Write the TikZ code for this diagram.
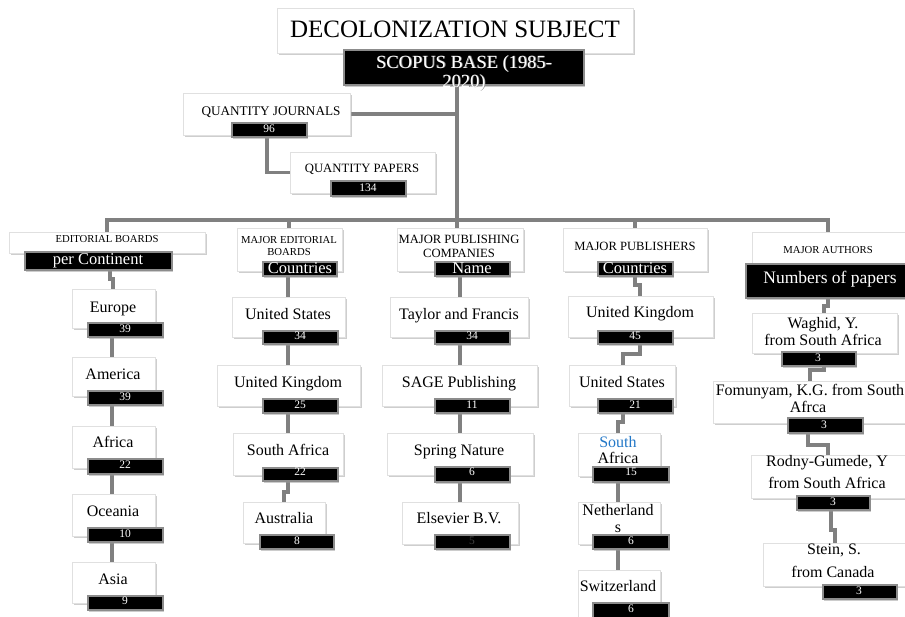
\documentclass[tikz,border=0pt]{standalone}
\usepackage{fontspec}
\setmainfont{Liberation Serif}
\usetikzlibrary{shadows}
\pgfdeclarelayer{bg}
\pgfsetlayers{bg,main}
\definecolor{linkblue}{RGB}{35,120,200}
\tikzset{
  wb/.style={draw=black!12, fill=white, inner sep=0pt, outer sep=0pt, anchor=north west,
    drop shadow={shadow xshift=1.5pt, shadow yshift=-2pt, fill=black!35, opacity=0.55}},
  bb/.style={draw=black!45, line width=1.2pt, fill=black, inner sep=0pt, outer sep=0pt, anchor=north west,
    drop shadow={shadow xshift=1pt, shadow yshift=-1.5pt, fill=black!40, opacity=0.5}},
  conn/.style={draw=black!50, line width=3.5pt, line join=miter},
  lab/.style={anchor=base, inner sep=0pt, font=\fontsize{16}{19}\selectfont},
  wlab/.style={anchor=base, inner sep=0pt, text=white, font=\fontsize{16.5}{19}\selectfont},
  num/.style={anchor=base, inner sep=0pt, text=white, font=\fontsize{11.5}{13}\selectfont},
  hds/.style={anchor=base, inner sep=0pt, font=\fontsize{10.7}{12}\selectfont},
  hdl/.style={anchor=base, inner sep=0pt, font=\fontsize{12.6}{14}\selectfont},
}
\newcommand{\wbx}[5]{\node[wb, minimum width={(#4-#2)*1pt}, minimum height={(#5-#3)*1pt}] (#1) at (#2,#3) {};}
\newcommand{\bbx}[5]{\node[bb, minimum width={(#4-#2)*1pt}, minimum height={(#5-#3)*1pt}] (#1) at (#2,#3) {};}
\newcommand{\tx}[5]{\node[#1] (#2) at (#3,#4) {#5};}
\begin{document}
\begin{tikzpicture}[x=1pt,y=-1pt]
\useasboundingbox (0,0) rectangle (905,616);
\clip (0,0) rectangle (905,616);
% ---------- top ----------
\wbx{title}{277}{8}{633}{53}
\bbx{scopus}{344}{50}{584}{85}
\tx{anchor=base, inner sep=0pt, font=\fontsize{25}{28}\selectfont}{ttitle}{455}{37}{DECOLONIZATION SUBJECT}
\node[anchor=base, inner sep=0pt, text=black!45, font=\fontsize{18.5}{20}\selectfont] (tsc1s) at (464.8,68.8) {SCOPUS BASE (1985-};
\node[anchor=base, inner sep=0pt, text=black!45, font=\fontsize{18.5}{20}\selectfont] (tsc2s) at (464.8,87.8) {2020)};
\node[anchor=base, inner sep=0pt, text=white, font=\fontsize{18.5}{20}\selectfont] (tsc1) at (464,68) {SCOPUS BASE (1985-};
\node[anchor=base, inner sep=0pt, text=white, font=\fontsize{18.5}{20}\selectfont] (tsc2) at (464,87) {2020)};
\wbx{qj}{183}{93}{350}{135}
\bbx{qjn}{232}{123}{307}{137}
\tx{anchor=base, inner sep=0pt, font=\fontsize{13.2}{15}\selectfont}{tqj}{271}{115}{QUANTITY JOURNALS}
\tx{num}{tqjn}{269}{132}{96}
\wbx{qp}{290}{152}{435}{193}
\bbx{qpn}{331}{181}{406}{196}
\tx{anchor=base, inner sep=0pt, font=\fontsize{12.7}{15}\selectfont}{tqp}{362}{172}{QUANTITY PAPERS}
\tx{num}{tqpn}{368}{191.5}{134}
% ---------- headings ----------
\wbx{eb}{9}{232}{205}{253}
\bbx{pcb}{25}{252}{172}{270}
\tx{hds}{teb}{107}{242}{EDITORIAL BOARDS}
\tx{wlab}{tpcb}{98}{264}{per Continent}
\wbx{meb}{237}{228}{342}{271}
\bbx{mebc}{263}{262}{337}{276}
\tx{hds}{tmeb1}{289}{243}{MAJOR EDITORIAL}
\tx{hds}{tmeb2}{289}{255}{BOARDS}
\tx{wlab}{tmebc}{300}{273}{Countries}
\wbx{mpc}{397}{228}{523}{271}
\bbx{mpcn}{435}{262}{510}{276}
\tx{hdl}{tmpc1}{459}{243}{MAJOR PUBLISHING}
\tx{hdl}{tmpc2}{459}{257}{COMPANIES}
\tx{wlab}{tmpcn}{472}{273}{Name}
\wbx{mp}{563}{228}{707}{271}
\bbx{mpcc}{598}{262}{673}{276}
\tx{hdl}{tmp}{635}{250}{MAJOR PUBLISHERS}
\tx{wlab}{tmpcc}{635}{273}{Countries}
\wbx{ma}{752}{232}{912}{265}
\bbx{mab}{746}{264}{912}{298}
\tx{hds}{tma}{828}{253}{MAJOR AUTHORS}
\tx{anchor=base, inner sep=0pt, text=white, font=\fontsize{17.5}{19}\selectfont}{tmab}{830}{283}{Numbers of papers}
% ---------- continents ----------
\wbx{eu}{72}{289}{155}{328} \bbx{eub}{88}{323}{163}{337}
\tx{lab}{teu}{113}{312}{Europe} \tx{num}{teub}{125}{332}{39}
\wbx{am}{72}{357}{155}{396} \bbx{amb}{88}{391}{163}{405}
\tx{lab}{tam}{113}{379}{America} \tx{num}{tamb}{125}{400}{39}
\wbx{af}{72}{426}{155}{468} \bbx{afb}{88}{459}{163}{474}
\tx{lab}{taf}{113}{447}{Africa} \tx{num}{tafb}{125}{468}{22}
\wbx{oc}{72}{494}{155}{536} \bbx{ocb}{88}{528}{163}{542}
\tx{lab}{toc}{113}{516}{Oceania} \tx{num}{tocb}{125}{537}{10}
\wbx{as}{72}{562}{155}{603} \bbx{asb}{88}{596}{163}{610}
\tx{lab}{tas}{113}{584}{Asia} \tx{num}{tasb}{125}{604}{9}
% ---------- editorial countries ----------
\wbx{us}{232}{297}{345}{337} \bbx{usb}{263}{331}{338}{344}
\tx{lab}{tus}{288}{319}{United States} \tx{num}{tusb}{300}{339}{34}
\wbx{uk}{217}{365}{360}{406} \bbx{ukb}{263}{399}{338}{413}
\tx{lab}{tuk}{288}{387}{United Kingdom} \tx{num}{tukb}{300}{408}{25}
\wbx{sa}{233}{433}{343}{475} \bbx{sab}{263}{468}{338}{481}
\tx{lab}{tsa}{288}{455}{South Africa} \tx{num}{tsab}{300}{475}{22}
\wbx{au}{243}{502}{325}{543} \bbx{aub}{260}{535}{334}{549}
\tx{lab}{tau}{284}{523}{Australia} \tx{num}{taub}{297}{544}{8}
% ---------- publishing companies ----------
\wbx{tf}{390}{297}{528}{337} \bbx{tfb}{435}{331}{510}{344}
\tx{lab}{ttf}{459}{319}{Taylor and Francis} \tx{num}{ttfb}{472}{339}{34}
\wbx{sg}{382}{365}{537}{406} \bbx{sgb}{435}{399}{510}{413}
\tx{lab}{tsg}{459}{387}{SAGE Publishing} \tx{num}{tsgb}{472}{408}{11}
\wbx{sn}{387}{433}{533}{475} \bbx{snb}{435}{467}{510}{482}
\tx{lab}{tsn}{459}{455}{Spring Nature} \tx{num}{tsnb}{472}{475}{6}
\wbx{el}{402}{502}{518}{544} \bbx{elb}{435}{535}{510}{549}
\tx{lab}{tel}{459}{523}{Elsevier B.V.} \tx{num, text=black!75}{telb}{472}{544}{5}
% ---------- publishers ----------
\wbx{puk}{568}{296}{713}{337} \bbx{pukb}{598}{331}{673}{344}
\tx{lab}{tpuk}{640}{317}{United Kingdom} \tx{num}{tpukb}{635}{339}{45}
\wbx{pus}{569}{365}{675}{406} \bbx{pusb}{598}{399}{673}{413}
\tx{lab}{tpus}{622}{387}{United States} \tx{num}{tpusb}{635}{408}{21}
\wbx{psa}{578}{433}{660}{476} \bbx{psab}{593}{467}{669}{482}
\tx{lab, text=linkblue}{tpsa1}{618}{447}{South} \tx{lab}{tpsa2}{618}{463}{Africa} \tx{num}{tpsab}{631}{475}{15}
\wbx{pnl}{578}{502}{660}{544} \bbx{pnlb}{593}{535}{669}{549}
\tx{lab}{tpnl1}{618}{515}{Netherland} \tx{lab}{tpnl2}{618}{532}{s} \tx{num}{tpnlb}{631}{544}{6}
\wbx{psw}{578}{570}{660}{630} \bbx{pswb}{593}{603}{669}{625}
\tx{lab}{tpsw}{618}{591}{Switzerland} \tx{num}{tpswb}{631}{612}{6}
% ---------- authors ----------
\wbx{wa}{752}{313}{897}{353} \bbx{wab}{782}{352}{856}{366}
\tx{lab}{twa1}{823}{328}{Waghid, Y.} \tx{lab}{twa2}{823}{345}{from South Africa} \tx{num}{twab}{818}{361}{3}
\wbx{fo}{713}{381}{912}{423} \bbx{fob}{788}{418}{863}{433}
\tx{lab}{tfo1}{810}{395}{Fomunyam, K.G. from South} \tx{lab}{tfo2}{808}{412}{Afrca} \tx{num}{tfob}{824}{428}{3}
\wbx{ro}{751}{455}{912}{498} \bbx{rob}{797}{496}{870}{510}
\tx{lab}{tro1}{827}{466}{Rodny-Gumede, Y} \tx{lab}{tro2}{827}{488}{from South Africa} \tx{num}{trob}{833}{505}{3}
\wbx{st}{763}{543}{912}{586} \bbx{stb}{823}{585}{897}{599}
\tx{lab}{tst1}{834}{554}{Stein, S.} \tx{lab}{tst2}{833}{577}{from Canada} \tx{num}{tstb}{859}{594}{3}
% ---------- connectors ----------
\coordinate (trunk) at (457,220);
\coordinate (b1) at (107,220); \coordinate (b2) at (289,220);
\coordinate (b4) at (635,220); \coordinate (b5) at (828,220);
\coordinate (q1) at (267,0);
\coordinate (xc) at (112,0); \coordinate (xe) at (288,0);
\coordinate (xp) at (460,0); \coordinate (xq) at (618,0);
\coordinate (j1a) at (110,279); \coordinate (j1b) at (113,279);
\coordinate (j2a) at (288,492); \coordinate (j2b) at (284,492);
\coordinate (j3a) at (635,285); \coordinate (j3b) at (640,285);
\coordinate (j4a) at (640,354); \coordinate (j4b) at (623,354);
\coordinate (j5a) at (623,422); \coordinate (j5b) at (618,422);
\coordinate (j6a) at (828,306); \coordinate (j6b) at (824,306);
\coordinate (j7a) at (824,370); \coordinate (j7b) at (810,370);
\coordinate (j8a) at (808,445); \coordinate (j8b) at (828,445);
\coordinate (j9a) at (831,530); \coordinate (j9b) at (835,530);
\begin{pgfonlayer}{bg}
\draw[conn] (scopus.south -| trunk) -- (mpc.north -| trunk);
\draw[conn] (qj.east) -- (qj.east -| trunk);
\draw[conn] (qjn.south -| q1) |- (qp.west);
\draw[conn] (eb.north) -- (b1) -- (b5) -- (ma.north -| b5);
\draw[conn] (b2) -- (meb.north -| b2);
\draw[conn] (b4) -- (mp.north -| b4);
\draw[conn] (pcb.south -| j1a) -- (j1a) -- (j1b) -- (eu.north -| j1b);
\foreach \a/\b in {eu/am,am/af,af/oc,oc/as} \draw[conn] (\a.south -| xc) -- (\b.north -| xc);
\foreach \a/\b in {mebc/us,us/uk,uk/sa} \draw[conn] (\a.south -| xe) -- (\b.north -| xe);
\draw[conn] (sab.south -| j2a) -- (j2a) -- (j2b) -- (au.north -| j2b);
\foreach \a/\b in {mpcn/tf,tf/sg,sg/sn,sn/el} \draw[conn] (\a.south -| xp) -- (\b.north -| xp);
\draw[conn] (mpcc.south -| j3a) -- (j3a) -- (j3b) -- (puk.north -| j3b);
\draw[conn] (pukb.south -| j4a) -- (j4a) -- (j4b) -- (pus.north -| j4b);
\draw[conn] (pusb.south -| j5a) -- (j5a) -- (j5b) -- (psa.north -| j5b);
\foreach \a/\b in {psa/pnl,pnl/psw} \draw[conn] (\a.south -| xq) -- (\b.north -| xq);
\draw[conn] (mab.south -| j6a) -- (j6a) -- (j6b) -- (wa.north -| j6b);
\draw[conn] (wab.south -| j7a) -- (j7a) -- (j7b) -- (fo.north -| j7b);
\draw[conn] (fob.south -| j8a) -- (j8a) -- (j8b) -- (ro.north -| j8b);
\draw[conn] (rob.south -| j9a) -- (j9a) -- (j9b) -- (st.north -| j9b);
\end{pgfonlayer}
\end{tikzpicture}
\end{document}
